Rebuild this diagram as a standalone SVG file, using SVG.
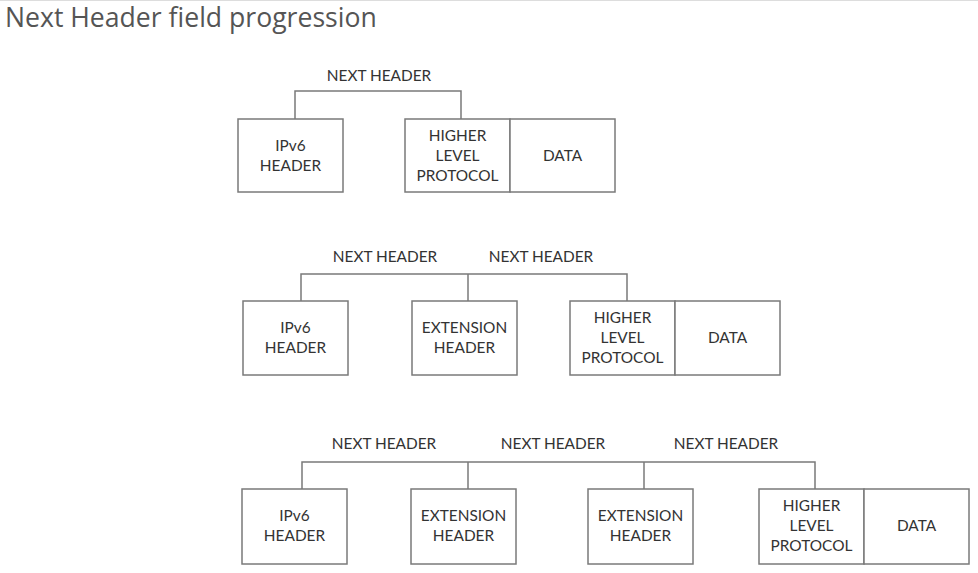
<svg xmlns="http://www.w3.org/2000/svg" width="978" height="573" viewBox="0 0 978 573">
<style>
.bg{fill:#ffffff}
.box{fill:#ffffff;stroke:#7a7a7a;stroke-width:1.5}
.con{fill:none;stroke:#7a7a7a;stroke-width:1.5}
.t{font-family:Lato,"Open Sans","Liberation Sans",sans-serif;font-size:15.4px;fill:#333333;text-anchor:middle}
.title{font-family:"Open Sans","DejaVu Sans",sans-serif;font-size:26.6px;fill:#555555}
</style>
<rect class="bg" x="0" y="0" width="978" height="573"/>
<line x1="0" y1="0.5" x2="978" y2="0.5" stroke="#dddddd" stroke-width="1"/>
<text class="title" x="5" y="27">Next Header field progression</text>

<g id="connectors">
<polyline class="con" points="295,119 295,91 461,91 461,119"/>
<polyline class="con" points="301,301 301,274 627,274 627,301"/>
<line class="con" x1="468" y1="274" x2="468" y2="301"/>
<polyline class="con" points="302,489 302,462 815,462 815,489"/>
<line class="con" x1="468" y1="462" x2="468" y2="489"/>
<line class="con" x1="644" y1="462" x2="644" y2="489"/>
</g>

<g id="labels">
<text class="t" x="379" y="81">NEXT HEADER</text>
<text class="t" x="385" y="262">NEXT HEADER</text>
<text class="t" x="541" y="262">NEXT HEADER</text>
<text class="t" x="384" y="449">NEXT HEADER</text>
<text class="t" x="553" y="449">NEXT HEADER</text>
<text class="t" x="726" y="449">NEXT HEADER</text>
</g>

<g id="d1-ipv6">
<rect class="box" x="238" y="119" width="105" height="73"/>
<text class="t" x="290.5" y="151">IPv6</text>
<text class="t" x="290.5" y="171">HEADER</text>
</g>
<g id="d1-hlp">
<rect class="box" x="405" y="119" width="105" height="73"/>
<text class="t" x="457.5" y="141">HIGHER</text>
<text class="t" x="457.5" y="161">LEVEL</text>
<text class="t" x="457.5" y="181">PROTOCOL</text>
</g>
<g id="d1-data">
<rect class="box" x="510" y="119" width="105" height="73"/>
<text class="t" x="562.5" y="161">DATA</text>
</g>

<g id="d2-ipv6">
<rect class="box" x="243" y="301" width="105" height="74"/>
<text class="t" x="295.5" y="333">IPv6</text>
<text class="t" x="295.5" y="353">HEADER</text>
</g>
<g id="d2-ext">
<rect class="box" x="412" y="301" width="105" height="74"/>
<text class="t" x="464.5" y="333">EXTENSION</text>
<text class="t" x="464.5" y="353">HEADER</text>
</g>
<g id="d2-hlp">
<rect class="box" x="570" y="301" width="105" height="74"/>
<text class="t" x="622.5" y="323">HIGHER</text>
<text class="t" x="622.5" y="343">LEVEL</text>
<text class="t" x="622.5" y="363">PROTOCOL</text>
</g>
<g id="d2-data">
<rect class="box" x="675" y="301" width="105" height="74"/>
<text class="t" x="727.5" y="343">DATA</text>
</g>

<g id="d3-ipv6">
<rect class="box" x="242" y="489" width="105" height="75"/>
<text class="t" x="294.5" y="521">IPv6</text>
<text class="t" x="294.5" y="541">HEADER</text>
</g>
<g id="d3-ext1">
<rect class="box" x="411" y="489" width="105" height="75"/>
<text class="t" x="463.5" y="521">EXTENSION</text>
<text class="t" x="463.5" y="541">HEADER</text>
</g>
<g id="d3-ext2">
<rect class="box" x="588" y="489" width="105" height="75"/>
<text class="t" x="640.5" y="521">EXTENSION</text>
<text class="t" x="640.5" y="541">HEADER</text>
</g>
<g id="d3-hlp">
<rect class="box" x="759" y="489" width="105" height="75"/>
<text class="t" x="811.5" y="511">HIGHER</text>
<text class="t" x="811.5" y="531">LEVEL</text>
<text class="t" x="811.5" y="551">PROTOCOL</text>
</g>
<g id="d3-data">
<rect class="box" x="864" y="489" width="105" height="75"/>
<text class="t" x="916.5" y="531">DATA</text>
</g>
</svg>
